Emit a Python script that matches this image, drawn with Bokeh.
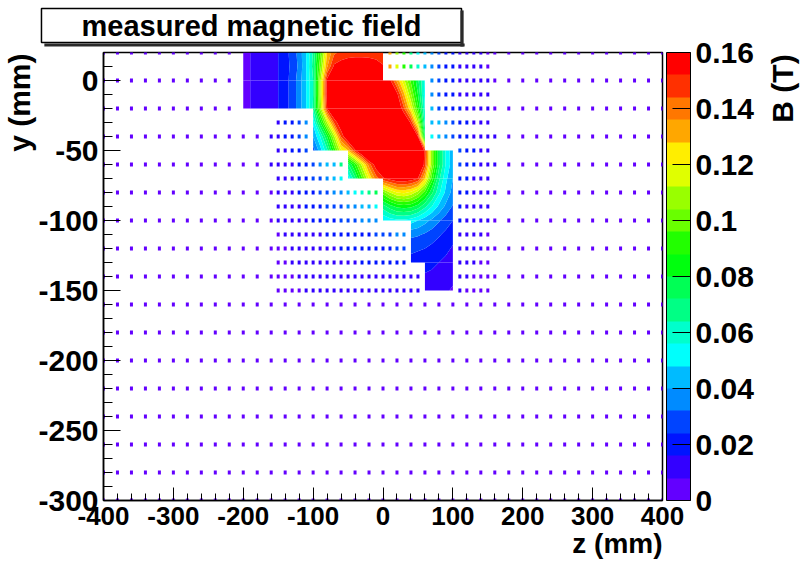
import numpy as np
from bokeh.plotting import figure
from bokeh.layouts import row
from bokeh.models import (ColumnDataSource, LinearColorMapper, ColorBar, FixedTicker,
                          CustomJSTickFormatter, Label, Range1d, Title)
from bokeh.embed import file_html
from bokeh.resources import INLINE

FONT = "Liberation Sans"
N = None

TITLE = "measured magnetic field"
X_TITLE = "z (mm)"
Y_TITLE = "y (mm)"
B_TITLE = "B (T)"

Z_LIMITS = [-400, 400]
Y_LIMITS = [-300, 20]
B_LIMITS = [0.0, 0.16]
N_CONTOURS = 20

Z_TICKS = [-400, -300, -200, -100, 0, 100, 200, 300, 400]
Y_TICKS = [0, -50, -100, -150, -200, -250, -300]
B_TICKS = [0.0, 0.02, 0.04, 0.06, 0.08, 0.1, 0.12, 0.14, 0.16]

# ROOT "pretty" palette sampled for 20 contour levels (violet -> red)
PALETTE = ["#6300ff", "#3300ff", "#0014ff", "#0044ff", "#008bff", "#00bbff", "#00fffc",
           "#00ffcc", "#00ff85", "#00ff55", "#00ff0e", "#22ff00", "#69ff00", "#99ff00",
           "#e0ff00", "#ffee00", "#ffa700", "#ff7700", "#ff3000", "#ff0000"]

# ---------------- densely measured map (B in mT, None = not measured) ----------------
MAP_Z = [-200, -190, -180, -170, -160, -150, -140, -130, -120, -110, -100, -90, -80, -70, -60,
         -50, -40, -30, -20, -10, 0, 10, 20, 30, 40, 50, 60, 70, 80, 90, 100]
MAP_Y = [20, 10, 0, -10, -20, -30, -40, -50, -60, -70, -80, -90, -100, -110, -120, -130, -140, -150]
MAP_B_MT = [
    [5, 8, 10, 12, 14, 16, 21, 27, 35, 48, 65, 94, 128, 142, 146, 148, 149, 149, 149, 148, 146,
     N, N, N, N, N, N, N, N, N, N],
    [5, 8, 10, 12, 14, 16, 21, 26, 34, 48, 67, 100, 135, 154, 157, 158, 158, 158, 157, 156, 153,
     N, N, N, N, N, N, N, N, N, N],
    [5, 8, 10, 12, 14, 16, 21, 27, 36, 48, 64, 108, 155, 175, 185, 190, 190, 190, 185, 180, 170,
     154, 134, 114, 94, 74, 54, N, N, N, N],
    [5, 8, 10, 12, 14, 16, 21, 27, 36, 48, 64, 108, 156, 180, 190, 195, 195, 195, 190, 185, 180,
     170, 155, 130, 105, 80, 52, N, N, N, N],
    [5, 8, 10, 12, 14, 16, 21, 27, 36, 48, 65, 105, 152, 172, 185, 195, 198, 198, 195, 192, 188,
     180, 165, 145, 120, 90, 55, N, N, N, N],
    [N, N, N, N, N, N, N, N, N, N, 50, 80, 112, 145, 162, 180, 195, 200, 200, 198, 195,
     190, 180, 168, 150, 112, 60, N, N, N, N],
    [N, N, N, N, N, N, N, N, N, N, 40, 56, 80, 110, 145, 165, 185, 198, 205, 205, 200,
     195, 188, 178, 168, 152, 72, N, N, N, N],
    [N, N, N, N, N, N, N, N, N, N, 28, 44, 62, 90, 118, 128, 150, 170, 190, 200, 205,
     205, 200, 192, 180, 168, 150, 105, 75, 55, 42],
    [N, N, N, N, N, N, N, N, N, N, N, N, N, N, N, 70, 90, 115, 140, 158, 175,
     190, 198, 200, 195, 175, 148, 105, 75, 55, 43],
    [N, N, N, N, N, N, N, N, N, N, N, N, N, N, N, 50, 70, 95, 120, 140, 150,
     156, 160, 160, 158, 152, 128, 92, 66, 50, 40],
    [N, N, N, N, N, N, N, N, N, N, N, N, N, N, N, N, N, N, N, N, 100,
     112, 120, 122, 118, 108, 92, 74, 58, 46, 37],
    [N, N, N, N, N, N, N, N, N, N, N, N, N, N, N, N, N, N, N, N, 68,
     76, 82, 84, 82, 76, 66, 56, 46, 38, 31],
    [N, N, N, N, N, N, N, N, N, N, N, N, N, N, N, N, N, N, N, N, 48,
     52, 54, 54, 52, 48, 43, 38, 33, 28, 24],
    [N, N, N, N, N, N, N, N, N, N, N, N, N, N, N, N, N, N, N, N, N,
     N, N, N, 34, 33, 31, 28, 25, 22, 19],
    [N, N, N, N, N, N, N, N, N, N, N, N, N, N, N, N, N, N, N, N, N,
     N, N, N, 26, 25, 24, 22, 20, 18, 15],
    [N, N, N, N, N, N, N, N, N, N, N, N, N, N, N, N, N, N, N, N, N,
     N, N, N, 21, 20, 19, 18, 16, 14, 12],
    [N, N, N, N, N, N, N, N, N, N, N, N, N, N, N, N, N, N, N, N, N,
     N, N, N, N, N, 15, 14, 13, 11, 10],
    [N, N, N, N, N, N, N, N, N, N, N, N, N, N, N, N, N, N, N, N, N,
     N, N, N, N, N, 12, 11, 10, 9, 7],
]

# ---------------- single measured points, fine grid (B in mT) ----------------
FINE_Z = [-150, -140, -130, -120, -110, -100, -90, -80, -70, -60, -50, -40, -30, -20, -10, 0,
          10, 20, 30, 40, 50, 60, 70, 80, 90, 100, 110, 120, 130, 140, 150]
FINE_Y = [20, 10, 0, -10, -20, -30, -40, -50, -60, -70, -80, -90, -100, -110, -120, -130, -140, -150]
FINE_B_MT = [
    [N, N, N, N, N, N, N, N, N, N, N, N, N, N, N, N,
     132, 108, 90, 68, 52, 44, 36, 28, 21, 18, 14, 12, 10, 8, 7],
    [N, N, N, N, N, N, N, N, N, N, N, N, N, N, N, N,
     135, 118, 95, 75, 57, 44, 36, 29, 22, 19, 15, 12, 10, 8, 7],
    [N, N, N, N, N, N, N, N, N, N, N, N, N, N, N, N, N, N, N, N, N, N,
     36, 28, 21, 19, 15, 12, 10, 9, 8],
    [N, N, N, N, N, N, N, N, N, N, N, N, N, N, N, N, N, N, N, N, N, N,
     37, 28, 22, 18, 15, 13, 11, 9, 8],
    [N, N, N, N, N, N, N, N, N, N, N, N, N, N, N, N, N, N, N, N, N, N,
     40, 31, 24, 19, 16, 13, 11, 9, 8],
    [14, 17, 21, 28, 38, N, N, N, N, N, N, N, N, N, N, N, N, N, N, N, N, N,
     45, 40, 33, 27, 21, 17, 14, 12, 10],
    [13, 16, 20, 26, 34, N, N, N, N, N, N, N, N, N, N, N, N, N, N, N, N, N,
     50, 44, 36, 30, 24, 19, 15, 12, 10],
    [12, 15, 18, 22, 27, N, N, N, N, N, N, N, N, N, N, N, N, N, N, N, N, N, N, N, N, N,
     30, 24, 19, 15, 12],
    [10, 12, 14, 17, 22, 26, 32, 40, 48, 70, N, N, N, N, N, N, N, N, N, N, N, N, N, N, N, N,
     27, 21, 17, 14, 11],
    [10, 12, 14, 17, 22, 25, 30, 36, 44, 52, N, N, N, N, N, N, N, N, N, N, N, N, N, N, N, N,
     23, 19, 15, 12, 10],
    [9, 11, 13, 16, 20, 24, 27, 30, 34, 38, 44, 50, 58, 68, 76, N, N, N, N, N, N, N, N, N, N, N,
     20, 16, 13, 11, 9],
    [8, 10, 12, 14, 17, 20, 22, 25, 28, 30, 33, 36, 40, 45, 50, N, N, N, N, N, N, N, N, N, N, N,
     18, 15, 12, 10, 8],
    [8, 9, 11, 13, 15, 18, 19, 21, 23, 25, 27, 30, 32, 35, 38, N, N, N, N, N, N, N, N, N, N, N,
     16, 13, 11, 9, 8],
    [7, 8, 9, 11, 13, 14, 15, 16, 17, 18, 19, 20, 22, 24, 26, 28, 30, 33, 34, N, N, N, N, N, N, N,
     14, 12, 10, 9, 7],
    [6, 7, 8, 10, 11, 12, 13, 14, 15, 16, 17, 18, 19, 20, 22, 23, 24, 25, 25, N, N, N, N, N, N, N,
     12, 10, 9, 8, 7],
    [6, 7, 8, 9, 10, 11, 12, 13, 13, 14, 15, 15, 16, 17, 18, 19, 19, 20, 20, N, N, N, N, N, N, N,
     10, 9, 8, 7, 6],
    [5, 6, 7, 8, 9, 10, 10, 11, 11, 12, 12, 13, 13, 14, 14, 15, 15, 15, 15, 14, 13, N, N, N, N, N,
     9, 8, 7, 7, 6],
    [5, 6, 6, 7, 8, 8, 9, 9, 10, 10, 11, 11, 11, 12, 12, 12, 12, 12, 12, 12, 11, N, N, N, N, N,
     8, 7, 7, 6, 6],
]

# ---------------- single measured points, coarse grid (B in mT) ----------------
COARSE_Z = [-400, -380, -360, -340, -320, -300, -280, -260, -240, -220, -200, -180, -160,
            -140, -120, -100, -80, -60, -40, -20, 0, 20, 40, 60, 80, 100, 120, 140,
            160, 180, 200, 220, 240, 260, 280, 300, 320, 340, 360, 380, 400]
COARSE_Y = [20, 0, -20, -40, -60, -80, -100, -120, -140, -160, -180, -200, -220, -240, -260, -280, -300]
COARSE_B_MT = [
    [3, 3, 3, 4, 4, 4, 4, 5, 5, 6, N, N, N,
     N, N, N, N, N, N, N, N, N, N, N, N, N, N, N,
     6, 5, 5, 4, 4, 4, 4, 3, 3, 3, 3, 3, 3],
    [3, 3, 3, 4, 4, 4, 4, 5, 5, 6, N, N, N,
     N, N, N, N, N, N, N, N, N, N, N, N, N, N, N,
     7, 6, 5, 5, 4, 4, 4, 3, 3, 3, 3, 3, 3],
    [3, 3, 3, 4, 4, 4, 4, 5, 5, 6, N, N, N,
     N, N, N, N, N, N, N, N, N, N, N, N, N, N, N,
     7, 6, 5, 5, 4, 4, 4, 3, 3, 3, 3, 3, 3],
    [3, 3, 3, 4, 4, 4, 4, 5, 5, 6, 6, 7, 8,
     N, N, N, N, N, N, N, N, N, N, N, N, N, N, N,
     8, 6, 5, 5, 4, 4, 4, 3, 3, 3, 3, 3, 3],
    [3, 3, 3, 4, 4, 4, 4, 5, 5, 6, 6, 7, 8,
     N, N, N, N, N, N, N, N, N, N, N, N, N, N, N,
     8, 6, 5, 5, 4, 4, 4, 3, 3, 3, 3, 3, 3],
    [3, 3, 3, 3, 4, 4, 4, 5, 5, 5, 6, 7, 7,
     N, N, N, N, N, N, N, N, N, N, N, N, N, N, N,
     7, 6, 5, 5, 4, 4, 4, 3, 3, 3, 3, 3, 3],
    [3, 3, 3, 3, 4, 4, 4, 4, 5, 5, 6, 6, 7,
     N, N, N, N, N, N, N, N, N, N, N, N, N, N, N,
     7, 6, 5, 4, 4, 4, 3, 3, 3, 3, 3, 3, 3],
    [3, 3, 3, 3, 3, 4, 4, 4, 5, 5, 5, 6, 6,
     N, N, N, N, N, N, N, N, N, N, N, N, N, N, N,
     6, 5, 5, 4, 4, 4, 3, 3, 3, 3, 3, 3, 3],
    [3, 3, 3, 3, 3, 4, 4, 4, 4, 5, 5, 5, 6,
     N, N, N, N, N, N, N, N, N, N, N, N, N, N, N,
     6, 5, 5, 4, 4, 3, 3, 3, 3, 3, 3, 3, 3],
    [3, 3, 3, 3, 3, 3, 4, 4, 4, 4, 5, 5, 5,
     6, 6, 6, 7, 7, 7, 7, 7, 7, 7, 7, 7, 6, 6, 6,
     5, 5, 5, 4, 4, 4, 3, 3, 3, 3, 3, 3, 3],
    [3, 3, 3, 3, 3, 3, 4, 4, 4, 4, 4, 5, 5,
     5, 5, 6, 6, 6, 6, 6, 6, 6, 6, 6, 6, 6, 5, 5,
     5, 5, 4, 4, 4, 4, 3, 3, 3, 3, 3, 3, 3],
    [3, 3, 3, 3, 3, 3, 3, 4, 4, 4, 4, 4, 5,
     5, 5, 5, 5, 5, 6, 6, 6, 6, 6, 5, 5, 5, 5, 5,
     5, 4, 4, 4, 4, 3, 3, 3, 3, 3, 3, 3, 3],
    [3, 3, 3, 3, 3, 3, 3, 3, 4, 4, 4, 4, 4,
     4, 5, 5, 5, 5, 5, 5, 5, 5, 5, 5, 5, 5, 5, 4,
     4, 4, 4, 4, 3, 3, 3, 3, 3, 3, 3, 3, 3],
    [3, 3, 3, 3, 3, 3, 3, 3, 3, 4, 4, 4, 4,
     4, 4, 4, 5, 5, 5, 5, 5, 5, 5, 5, 5, 4, 4, 4,
     4, 4, 4, 3, 3, 3, 3, 3, 3, 3, 3, 3, 3],
    [3, 3, 3, 3, 3, 3, 3, 3, 3, 3, 4, 4, 4,
     4, 4, 4, 4, 4, 4, 4, 4, 4, 4, 4, 4, 4, 4, 4,
     4, 4, 3, 3, 3, 3, 3, 3, 3, 3, 3, 3, 3],
    [2, 3, 3, 3, 3, 3, 3, 3, 3, 3, 3, 4, 4,
     4, 4, 4, 4, 4, 4, 4, 4, 4, 4, 4, 4, 4, 4, 4,
     4, 3, 3, 3, 3, 3, 3, 3, 3, 3, 3, 3, 2],
    [2, 2, 3, 3, 3, 3, 3, 3, 3, 3, 3, 3, 3,
     4, 4, 4, 4, 4, 4, 4, 4, 4, 4, 4, 4, 4, 4, 4,
     3, 3, 3, 3, 3, 3, 3, 3, 3, 3, 3, 2, 2],
]

for table, ny, nz in ((MAP_B_MT, len(MAP_Y), len(MAP_Z)), (FINE_B_MT, len(FINE_Y), len(FINE_Z)),
                      (COARSE_B_MT, len(COARSE_Y), len(COARSE_Z))):
    assert len(table) == ny, (len(table), ny)
    for i, r in enumerate(table):
        assert len(r) == nz, (i, len(r), nz)

# page layout (pixels): main plot 762 x 570, then a 40 px strip for the colour-axis title
MAIN_W, PAGE_H = 762, 570
SIDE_W = 40
FRAME_L, FRAME_T, FRAME_R, FRAME_B = 102, 52, 662, 500

# ---------------- main figure ----------------
p = figure(width=MAIN_W, height=PAGE_H, x_range=Range1d(*Z_LIMITS), y_range=Range1d(*Y_LIMITS),
           output_backend="svg", toolbar_location=None,
           min_border_left=FRAME_L, min_border_right=MAIN_W - FRAME_R, min_border_top=FRAME_T,
           min_border_bottom=PAGE_H - FRAME_B)
if p.title is not None:
    p.title.visible = False
p.xgrid.visible = False
p.ygrid.visible = False
p.background_fill_color = "white"
p.border_fill_color = "white"
p.outline_line_color = "black"
p.outline_line_width = 1.5

mapper = LinearColorMapper(palette=PALETTE, low=B_LIMITS[0], high=B_LIMITS[1])

# sparse measured points
dot_z, dot_y, dot_b = [], [], []
for grid_y, grid_z, table in ((FINE_Y, FINE_Z, FINE_B_MT), (COARSE_Y, COARSE_Z, COARSE_B_MT)):
    for yy, r in zip(grid_y, table):
        for zz, bb in zip(grid_z, r):
            if bb is not None:
                dot_z.append(zz)
                dot_y.append(yy)
                dot_b.append(bb / 1000.0)
dots = ColumnDataSource(dict(z=dot_z, y=dot_y, b=dot_b))
p.rect("z", "y", width=3, height=4, width_units="screen", height_units="screen", source=dots,
       fill_color={"field": "b", "transform": mapper}, line_color=None)

# filled contours of the dense map, one rectangular strip at a time
levels = list(np.linspace(B_LIMITS[0], B_LIMITS[1], N_CONTOURS + 1))
levels[-1] = 1.0


def span(r):
    idx = [i for i, v in enumerate(r) if v is not None]
    return idx[0], idx[-1]


blocks = []
for r in range(len(MAP_Y) - 1):
    a0, a1 = span(MAP_B_MT[r])
    b0, b1 = span(MAP_B_MT[r + 1])
    cols = (max(a0, b0), min(a1, b1))
    if blocks and blocks[-1]["cols"] == cols and blocks[-1]["rows"][1] == r:
        blocks[-1]["rows"][1] = r + 1
    else:
        blocks.append({"rows": [r, r + 1], "cols": cols})

for blk in blocks:
    r0, r1 = blk["rows"]
    c0, c1 = blk["cols"]
    ys = [MAP_Y[r] for r in range(r1, r0 - 1, -1)]
    zs = MAP_Z[c0:c1 + 1]
    grid = np.array([[MAP_B_MT[r][c] for c in range(c0, c1 + 1)] for r in range(r1, r0 - 1, -1)],
                    dtype=float) / 1000.0
    X, Y = np.meshgrid(np.array(zs, dtype=float), np.array(ys, dtype=float))
    cr = p.contour(X, Y, grid, levels, fill_color=PALETTE, line_color=None)
    g = cr.fill_renderer.glyph
    g.line_color = g.fill_color
    g.line_width = 0.8

# axes
plain = CustomJSTickFormatter(code="return tick.toString()")
for ax in (p.xaxis[0], p.yaxis[0]):
    ax.axis_line_color = "black"
    ax.axis_line_width = 1.5
    ax.major_tick_line_color = "black"
    ax.minor_tick_line_color = "black"
    ax.major_tick_out = 0
    ax.minor_tick_out = 0
    ax.major_label_text_font = FONT
    ax.major_label_text_font_style = "bold"
    ax.major_label_text_color = "black"
    ax.formatter = plain

p.xaxis.ticker = FixedTicker(ticks=Z_TICKS, minor_ticks=list(range(Z_LIMITS[0], Z_LIMITS[1] + 1, 20)))
p.xaxis.major_tick_in = 13
p.xaxis.minor_tick_in = 7
p.xaxis.major_label_standoff = 6
p.xaxis.major_label_text_font_size = "26px"

p.yaxis.ticker = FixedTicker(ticks=Y_TICKS, minor_ticks=list(range(Y_LIMITS[0], Y_LIMITS[1] + 1, 10)))
p.yaxis.major_tick_in = 17
p.yaxis.minor_tick_in = 9
p.yaxis.major_label_standoff = 5
p.yaxis.major_label_text_font_size = "30px"

# axis titles (ROOT style: at the far end of each axis)
p.add_layout(Title(text=Y_TITLE, align="right", vertical_align="bottom", offset=1, standoff=0,
                   text_font=FONT, text_font_style="bold", text_font_size="30px",
                   text_color="black"), "left")
p.add_layout(Title(text=X_TITLE, align="right", vertical_align="top", offset=0, standoff=0,
                   text_font=FONT, text_font_style="bold", text_font_size="28px",
                   text_color="black"), "below")

# ---- title box with an L-shaped drop shadow (bands above / right of the frame) ----
# Label padding order: (left, right, top, bottom); the padded box is centred on (x, y).
SHADOW = "#2a2a2a"


def pad_box(x, y, padding, color, **kw):
    return Label(x=x, y=y, x_units="screen", y_units="screen", text="\u00a0", text_font=FONT,
                 text_font_size="1px", text_color=color, text_align="center",
                 text_baseline="middle", background_fill_color=color, padding=padding, **kw)


# right edge of the shadow: first item of the right band (starts at the frame's right edge)
p.add_layout(pad_box(461.5 - FRAME_R, FRAME_B - 28, (2, 1, 18, 17), SHADOW), "right")
# bottom edge of the shadow: first item of the top band (ends at the frame's top edge)
BOTTOM_BAND = 3
p.add_layout(pad_box(253 - FRAME_L, FRAME_T - 44.5, (210, 210, 1, 1), SHADOW), "above")
# the white title box itself, next band up
p.add_layout(Label(x=250 - FRAME_L, y=FRAME_T - BOTTOM_BAND - 25, x_units="screen",
                   y_units="screen", text=TITLE, text_font=FONT, text_font_style="bold",
                   text_font_size="29px", text_color="black", text_align="center",
                   text_baseline="middle", background_fill_color="white",
                   border_line_color="black", border_line_width=1.5, padding=(40, 40, 1, 1)),
             "above")

# colour bar (after the 3 px shadow band on the right)
cb = ColorBar(color_mapper=mapper, width=24, height=448, padding=0, margin=0, location=(1, 0),
              ticker=FixedTicker(ticks=B_TICKS),
              formatter=CustomJSTickFormatter(code="return String(parseFloat(tick.toFixed(3)))"),
              major_label_text_font=FONT, major_label_text_font_style="bold",
              major_label_text_font_size="30px", major_label_text_color="black",
              major_tick_line_color="black", major_tick_in=18, major_tick_out=0,
              minor_tick_line_color=None, bar_line_color="black", bar_line_width=1,
              border_line_color=None, background_fill_color=None, label_standoff=5)
p.add_layout(cb, "right")

# colour-axis title, rotated (reading upwards), in its own strip right of the main figure.
# The strip's frame is aligned with the main frame (top 52, bottom 500).
side = figure(width=SIDE_W, height=PAGE_H, x_range=Range1d(0, SIDE_W), y_range=Range1d(0, PAGE_H),
              output_backend="svg", toolbar_location=None, min_border=0,
              x_axis_location=None, y_axis_location=None)
if side.title is not None:
    side.title.visible = False
side.xgrid.visible = False
side.ygrid.visible = False
side.outline_line_color = None
side.background_fill_color = "white"
side.border_fill_color = "white"
side.add_layout(Label(x=20, y=FRAME_B - 88, x_units="screen", y_units="screen", text=B_TITLE,
                      angle=np.pi / 2, text_font=FONT, text_font_style="bold",
                      text_font_size="30px", text_color="black", text_align="center",
                      text_baseline="middle"))

layout = row(p, side)
open("out.html", "w").write(file_html(layout, INLINE))
